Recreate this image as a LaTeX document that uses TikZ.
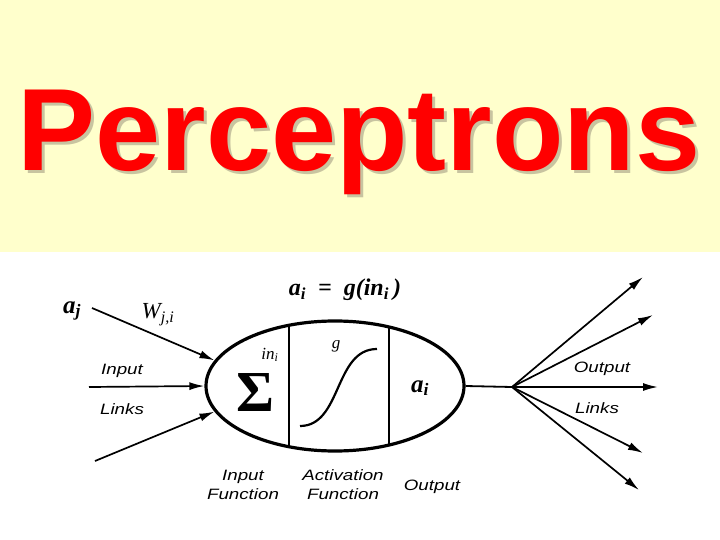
\documentclass[tikz,border=0pt]{standalone}
\usepackage{fontspec}
\setmainfont{Liberation Serif}
\setsansfont{Liberation Sans}
\newfontfamily\lblfont{Liberation Sans}[FakeStretch=1.25]
\usetikzlibrary{arrows.meta,shapes.geometric}
\definecolor{slideyellow}{HTML}{FFFFCC}
\definecolor{titlered}{HTML}{FF0000}
\definecolor{shadowtan}{HTML}{C8C4A0}

\begin{document}
\begin{tikzpicture}[x=1pt,y=-1pt,>=Latex,font=\sffamily]
\tikzset{neuron/.style={draw,ellipse,line width=3.2pt,minimum width=258pt,minimum height=130pt,inner sep=0pt},
  link/.style={-{Latex[length=15pt,width=8pt]},line width=1.7pt},
  lbl/.style={font=\lblfont\itshape\fontsize{15}{19}\selectfont,align=center,inner sep=0pt},
  sym/.style={font=\rmfamily\itshape\fontsize{18}{18}\selectfont,inner sep=0pt},
  heading/.style={anchor=base,inner sep=0pt,font=\sffamily\bfseries\fontsize{117}{117}\selectfont}}
\useasboundingbox (0,0) rectangle (720,540);
\fill[white] (0,0) rectangle (720,540);
\fill[slideyellow] (0,0) rectangle (720,252);
% title
\node[heading,text=shadowtan] (shadow) at (362,174) {Perceptrons};
\node[heading,text=titlered] (title) at (359,171) {Perceptrons};
% the unit
\node[neuron] (neuron) at (335,386) {};
\begin{scope}
\clip (neuron.center) ellipse [x radius=129pt,y radius=65pt];
\draw[line width=1.6pt] (289,300) -- (289,470);
\draw[line width=1.6pt] (389,300) -- (389,470);
\end{scope}
\node[font=\rmfamily\bfseries\fontsize{58}{58}\selectfont,inner sep=0pt] (sum) at (255,393) {Σ};
\node[sym,font=\rmfamily\itshape\fontsize{17}{17}\selectfont] (net) at (270,355) {in\textsubscript{i}};
\node[sym,font=\rmfamily\itshape\fontsize{17}{17}\selectfont] (gname) at (336,346) {g};
\draw[line width=2.2pt] (300,426) .. controls (342,426) and (334,349) .. (377,349);
\node[sym,font=\rmfamily\bfseries\itshape\fontsize{25}{25}\selectfont] (act) at (420,388) {a\textsubscript{i}};
\node[sym,font=\rmfamily\bfseries\itshape\fontsize{24}{24}\selectfont] (rule) at (345,290) {a\textsubscript{i}\ \ =\ \ g(in\textsubscript{i}\,)};
% input links
\node[sym,font=\rmfamily\bfseries\itshape\fontsize{25}{25}\selectfont] (aj) at (72,311) {a\textsubscript{j}};
\node[sym,font=\rmfamily\itshape\fontsize{23}{23}\selectfont] (wji) at (158,315) {W\textsubscript{j,i}};
\coordinate (in1) at (92,308);
\coordinate (in2) at (89,387);
\coordinate (in3) at (95,461);
\draw[link] (in1) -- (neuron.168);
\draw[link] (in2) -- (neuron.180);
\draw[link] (in3) -- (neuron.192);
\node[lbl] (inlinks) at (122,371) {Input};
\node[lbl] (inlinks2) at (122,409) {Links};
% output links
\coordinate (hub) at (512,387);
\draw[line width=1.8pt] (neuron.east) -- (hub);
\coordinate (out1) at (643,277);
\coordinate (out2) at (653,315);
\coordinate (out3) at (658,387);
\coordinate (out4) at (643,453);
\coordinate (out5) at (639,490);
\foreach \o in {out1,out2,out3,out4,out5}
  \draw[link] (hub) -- (\o);
\node[lbl] (outlinks) at (602,369) {Output};
\node[lbl] (outlinks2) at (597,408) {Links};
% stage names
\node[lbl] (inputfn) at (243,485) {Input\\Function};
\node[lbl] (actfn) at (343,485) {Activation\\Function};
\node[lbl] (outstage) at (432,487) {Output};
\end{tikzpicture}
\end{document}
